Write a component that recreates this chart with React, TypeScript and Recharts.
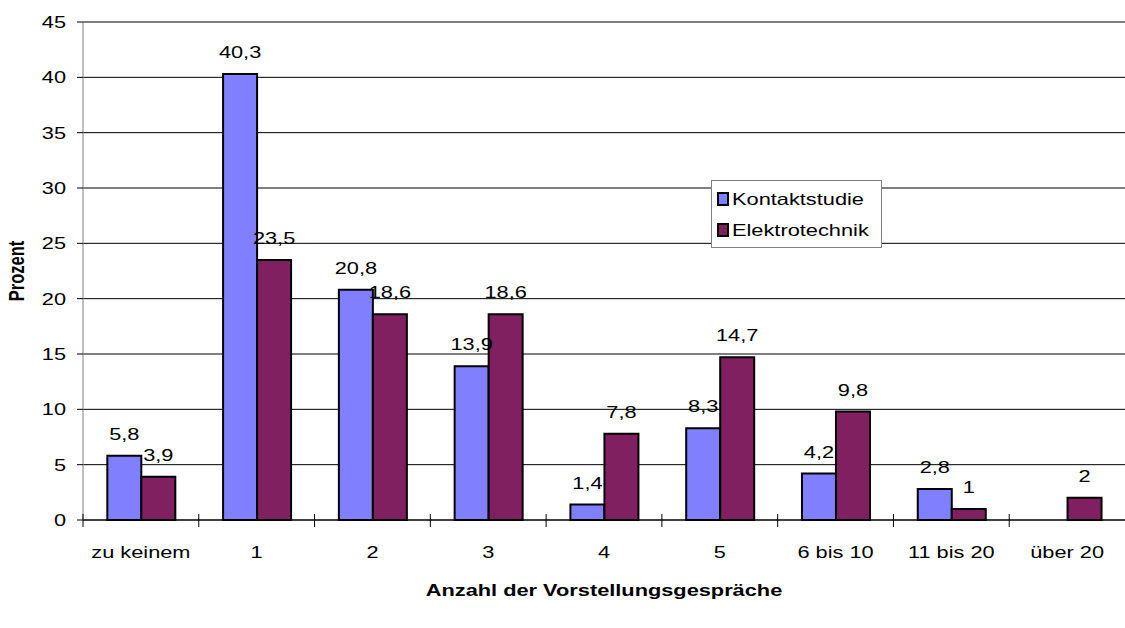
import React from 'react';
import { BarChart, Bar, XAxis, YAxis, CartesianGrid, LabelList, Legend, Label } from 'recharts';

const categories = ['zu keinem', '1', '2', '3', '4', '5', '6 bis 10', '11 bis 20', 'über 20'];
const kontaktstudie: (number | null)[] = [5.8, 40.3, 20.8, 13.9, 1.4, 8.3, 4.2, 2.8, null];
const elektrotechnik: number[] = [3.9, 23.5, 18.6, 18.6, 7.8, 14.7, 9.8, 1, 2];
const yTicks = [0, 5, 10, 15, 20, 25, 30, 35, 40, 45];
const seriesNames = ['Kontaktstudie', 'Elektrotechnik'];
const seriesColors = ['#8080FF', '#802060'];

const data = categories.map((c, i) => ({ cat: c, k: kontaktstudie[i], e: elektrotechnik[i] }));

const FONT = '"Liberation Sans", Arial, sans-serif';
const FS = 16.5;
const SX = 1.32;
const W = 1125;
const H = 628;
const LEFT = 83;
const BOTTOM = 108;
const BAND = (W - LEFT) / categories.length;

const fmt = (v: any) => (v === null || v === undefined ? '' : String(v).replace('.', ','));

const StretchText = ({ x, y, anchor = 'middle', bold = false, children, dy }: any) => (
  <text
    transform={`translate(${x} ${y}) scale(${SX} 1)`}
    x={0}
    y={0}
    dy={dy}
    textAnchor={anchor}
    fontSize={FS}
    fontWeight={bold ? 'bold' : 'normal'}
    fontFamily={FONT}
    fill="#000"
  >
    {children}
  </text>
);

const XTick = (props: any) => {
  const { x, y, payload } = props;
  const axisY = y;
  return (
    <g>
      <line x1={x - BAND / 2} x2={x - BAND / 2} y1={axisY - 6} y2={axisY + 7} stroke="#000" strokeWidth={1} />
      <StretchText x={x} y={axisY + 38}>{payload.value}</StretchText>
    </g>
  );
};

const YTick = (props: any) => {
  const { y, payload } = props;
  return (
    <StretchText x={66} y={y} anchor="end" dy="0.36em">
      {payload.value}
    </StretchText>
  );
};

const ValueLabel = (props: any) => {
  const { x, y, width, value } = props;
  if (value === null || value === undefined) return null;
  return <StretchText x={x + width / 2} y={y - 16}>{fmt(value)}</StretchText>;
};

const LegendBox = () => (
  <div
    style={{
      position: 'absolute',
      left: 711,
      top: 180,
      width: 171,
      height: 68,
      border: '1px solid #808080',
      background: '#fff',
      fontFamily: FONT,
      fontSize: FS,
      boxSizing: 'border-box',
      paddingLeft: 5,
      paddingTop: 6,
    }}
  >
    {seriesNames.map((name, i) => (
      <div key={name} style={{ display: 'flex', alignItems: 'center', height: 24, marginBottom: i === 0 ? 7 : 0 }}>
        <span
          style={{
            display: 'inline-block',
            width: 8,
            height: 10,
            background: seriesColors[i],
            border: '2px solid #000',
            marginRight: 3,
            flex: 'none',
          }}
        />
        <span style={{ display: 'inline-block', transform: `scaleX(${SX})`, transformOrigin: 'left center', whiteSpace: 'nowrap' }}>
          {name}
        </span>
      </div>
    ))}
  </div>
);

export default function App() {
  return (
    <div style={{ position: 'absolute', left: 0, top: 0, width: W, height: H, background: '#fff' }}>
      <BarChart
        width={W}
        height={H}
        data={data}
        margin={{ top: 22, right: 0, left: 0, bottom: 0 }}
        barCategoryGap="21%"
        barGap={0}
      >
        <CartesianGrid horizontal vertical={false} stroke="#000" strokeWidth={1} />
        <XAxis
          dataKey="cat"
          axisLine={{ stroke: '#000' }}
          tickLine={false}
          tickSize={0}
          tickMargin={0}
          tick={<XTick />}
          interval={0}
          height={BOTTOM}
        >
          <Label
            content={() => <StretchText x={604} y={596} bold>Anzahl der Vorstellungsgespräche</StretchText>}
          />
        </XAxis>
        <YAxis
          width={LEFT}
          domain={[0, 45]}
          ticks={yTicks}
          interval={0}
          axisLine={{ stroke: '#808080' }}
          tickLine={{ stroke: '#000' }}
          tickSize={6}
          tickMargin={10}
          tick={<YTick />}
        >
          <Label
            content={() => (
              <text
                transform={`translate(24 271) scale(${SX} 1) rotate(-90)`}
                x={0}
                y={0}
                textAnchor="middle"
                fontSize={FS}
                fontWeight="bold"
                fontFamily={FONT}
                fill="#000"
              >
                Prozent
              </text>
            )}
          />
        </YAxis>
        <Legend content={() => <LegendBox />} wrapperStyle={{ position: 'absolute', left: 0, top: 0, width: 0, height: 0 }} />
        <Bar dataKey="k" name={seriesNames[0]} fill={seriesColors[0]} stroke="#000" strokeWidth={2} isAnimationActive={false}>
          <LabelList dataKey="k" content={<ValueLabel />} />
        </Bar>
        <Bar dataKey="e" name={seriesNames[1]} fill={seriesColors[1]} stroke="#000" strokeWidth={2} isAnimationActive={false}>
          <LabelList dataKey="e" content={<ValueLabel />} />
        </Bar>
      </BarChart>
    </div>
  );
}
